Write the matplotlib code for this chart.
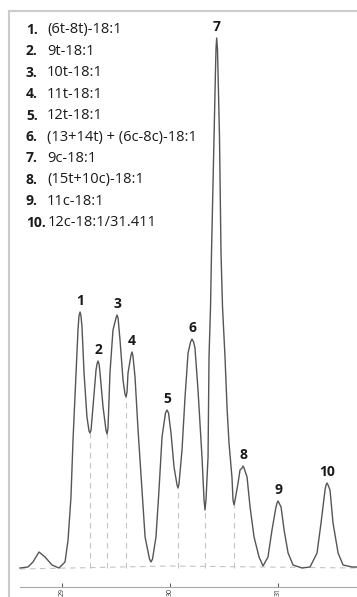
import matplotlib
matplotlib.use("Agg")
import matplotlib.pyplot as plt
from matplotlib.lines import Line2D

plt.rcParams['font.family'] = ['Open Sans', 'DejaVu Sans']

# chromatogram trace (retention time in min, detector signal)
trace_time = [28.611, 28.685, 28.731, 28.787, 28.843, 28.907, 28.972, 29.028, 29.056,
              29.083, 29.102, 29.130, 29.148, 29.157, 29.167, 29.176, 29.185, 29.204,
              29.231, 29.250, 29.259, 29.269, 29.287, 29.315, 29.324, 29.333, 29.343,
              29.352, 29.380, 29.407, 29.417, 29.426, 29.444, 29.472, 29.500, 29.509,
              29.519, 29.537, 29.565, 29.583, 29.593, 29.602, 29.611, 29.639, 29.648,
              29.657, 29.676, 29.704, 29.741, 29.769, 29.810, 29.824, 29.838, 29.870,
              29.898, 29.926, 29.958, 29.972, 29.986, 30.009, 30.037, 30.065, 30.074,
              30.083, 30.111, 30.139, 30.167, 30.190, 30.204, 30.218, 30.231, 30.259,
              30.296, 30.315, 30.324, 30.333, 30.352, 30.361, 30.375, 30.384, 30.407,
              30.421, 30.426, 30.432, 30.439, 30.444, 30.458, 30.472, 30.486, 30.509,
              30.528, 30.546, 30.574, 30.583, 30.593, 30.602, 30.630, 30.648, 30.667,
              30.676, 30.685, 30.713, 30.741, 30.778, 30.824, 30.861, 30.907, 30.944,
              30.981, 30.991, 31.000, 31.009, 31.028, 31.056, 31.093, 31.139, 31.222,
              31.296, 31.361, 31.398, 31.435, 31.444, 31.454, 31.463, 31.481, 31.509,
              31.556, 31.602, 31.685, 31.731]
trace_signal = [0, 1, 6, 16, 11, 3, 0, 6, 28,
                71, 128, 195, 238, 252, 256, 252, 241, 195,
                151, 137, 135, 138, 161, 198, 204, 207, 204,
                195, 161, 138, 134, 140, 195, 238, 250, 253,
                250, 228, 188, 174, 171, 176, 195, 213, 216,
                212, 191, 138, 78, 31, 9, 6, 9, 31,
                78, 131, 155, 158, 155, 135, 101, 83, 80,
                84, 118, 171, 215, 226, 229, 226, 220, 178,
                111, 68, 58, 68, 111, 211, 261, 315, 431,
                498, 520, 530, 520, 498, 431, 315, 261, 211,
                160, 125, 90, 68, 63, 68, 85, 98, 100,
                102, 100, 91, 61, 31, 11, 2, 11, 38,
                61, 65, 67, 65, 61, 38, 15, 3, 0,
                1, 15, 45, 78, 83, 85, 83, 78, 45,
                15, 3, 1, 1]

# peak apexes and labels
peak_labels = ["1", "2", "3", "4", "5", "6", "7", "8", "9", "10"]
peak_rt = [29.167, 29.333, 29.509, 29.648, 29.972, 30.204, 30.432, 30.676, 31.000, 31.454]
peak_height = [256, 207, 253, 216, 158, 229, 530, 102, 67, 85]

# valleys where the peaks were split by drop lines
valley_rt = [29.259, 29.417, 29.593, 30.074, 30.324, 30.593]
valley_signal = [135, 134, 171, 80, 58, 63]

baseline_time = [28.611, 30.0, 31.731]
baseline_signal = [-1, 2, 0]

compounds = ["(6t-8t)-18:1", "9t-18:1", "10t-18:1", "11t-18:1", "12t-18:1",
             "(13+14t) + (6c-8c)-18:1", "9c-18:1", "(15t+10c)-18:1", "11c-18:1",
             "12c-18:1/31.411"]
x_ticks = [29, 30, 31]

W, H = 357, 597
fig = plt.figure(figsize=(W / 100, H / 100), dpi=100)
ax = fig.add_axes([0, 0, 1, 1])
ax.set_xlim(28.426, 31.731)
ax.set_ylim(-29, 568)

ax.plot(baseline_time, baseline_signal, ls=(0, (5, 4)), color='#c4c4c4', lw=0.8)
for t, s in zip(valley_rt, valley_signal):
    ax.plot([t, t], [0, s], ls=(0, (5, 4)), color='#c4c4c4', lw=0.8)
ax.plot(trace_time, trace_signal, color='#555555', lw=1.0)

for lab, t, h in zip(peak_labels, peak_rt, peak_height):
    ax.annotate(lab, (t, h), xytext=(0, 3), textcoords='offset points',
                ha='center', va='bottom', fontsize=10, fontweight='bold', color='#1a1a1a')

# x axis
for s in ['top', 'right', 'left']:
    ax.spines[s].set_visible(False)
ax.spines['bottom'].set_position(('data', -19))
ax.spines['bottom'].set_bounds(28.611, 31.731)
ax.spines['bottom'].set_color('#a8a8a8')
ax.set_xticks(x_ticks)
ax.set_xticklabels([str(v) for v in x_ticks], rotation=90, fontsize=5, color='#333333')
ax.tick_params(axis='x', direction='in', length=3, width=0.8, color='#606060', pad=0.5)
ax.set_yticks([])

# panel frame
fig.add_artist(Line2D([9 / W, 9 / W], [0, 1 - 11 / H], color='#cccccc', lw=1.5))
fig.add_artist(Line2D([9 / W, 1], [1 - 11 / H, 1 - 11 / H], color='#cccccc', lw=1.5))

# compound list
for i, name in enumerate(compounds):
    y = 1 - (30 + 21.4 * i) / H
    fig.text(26 / W, y, f"{i + 1}.", fontsize=10, fontweight='bold', va='center', color='#1a1a1a')
    xt = 47 if i < 9 else 48
    fig.text(xt / W, y, name, fontsize=10.5, va='center', color='#1a1a1a')

fig.savefig("out.png", dpi=100)
